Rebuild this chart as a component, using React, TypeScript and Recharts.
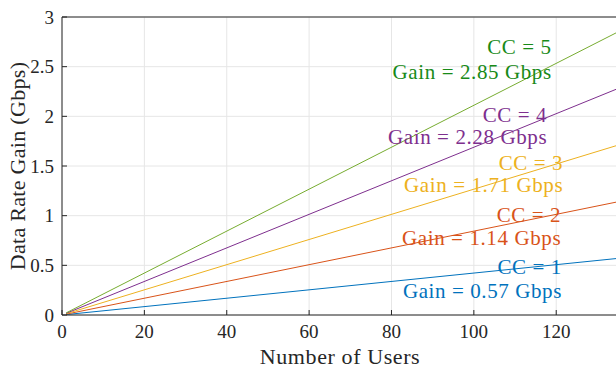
import React from 'react';
import { LineChart, Line, XAxis, YAxis, CartesianGrid, ReferenceLine, ReferenceDot } from 'recharts';

const users = [1, 135];
const cc1 = [0.0042, 0.57];
const cc2 = [0.0084, 1.14];
const cc3 = [0.0127, 1.71];
const cc4 = [0.0169, 2.28];
const cc5 = [0.0211, 2.85];

const ccNames = ['CC = 1', 'CC = 2', 'CC = 3', 'CC = 4', 'CC = 5'];
const gainNames = ['Gain = 0.57 Gbps', 'Gain = 1.14 Gbps', 'Gain = 1.71 Gbps', 'Gain = 2.28 Gbps', 'Gain = 2.85 Gbps'];
const annX = [121.4, 121.2, 121.7, 117.8, 118.9];
const annCcY = [0.483, 1.007, 1.53, 2.013, 2.698];
const annGainY = [0.242, 0.775, 1.309, 1.792, 2.446];

const xTicks = [0, 20, 40, 60, 80, 100, 120];
const yTicks = [0, 0.5, 1, 1.5, 2, 2.5, 3];

const lineColors = ['#0072BD', '#D95319', '#EDB120', '#7E2F8E', '#77AC30'];
const textColors = ['#0072BD', '#D95319', '#EDB120', '#7E2F8E', '#188A18'];

const FONT = '"Liberation Serif", serif';
const AX = '#262626';

const data = users.map((u, i) => ({
  u,
  c1: cc1[i],
  c2: cc2[i],
  c3: cc3[i],
  c4: cc4[i],
  c5: cc5[i],
}));

const keys = ['c1', 'c2', 'c3', 'c4', 'c5'];

const makeText = (txt: string, color: string) => (p: any) => (
  <text
    x={p.cx}
    y={p.cy}
    textAnchor="end"
    dominantBaseline="central"
    fill={color}
    style={{ fontFamily: FONT, fontSize: 21, letterSpacing: 0.6 }}
  >
    {txt}
  </text>
);

export default function App() {
  return (
    <div style={{ position: 'fixed', left: 0, top: 0, width: 616, height: 371, overflow: 'hidden', background: '#fff' }}>
      <LineChart width={618} height={371} data={data} margin={{ top: 17, right: 0, left: 0, bottom: 0 }}>
        <CartesianGrid stroke="#e6e6e6" strokeWidth={1} verticalValues={xTicks} horizontalValues={yTicks} />
        <XAxis
          dataKey="u"
          type="number"
          domain={[0, 135]}
          ticks={xTicks}
          height={56}
          tickSize={-5}
          tickMargin={15}
          stroke={AX}
          tick={{ fill: AX, fontFamily: FONT, fontSize: 19 }}
          label={{
            content: () => (
              <text x={340} y={356} textAnchor="middle" dominantBaseline="central" fill={AX} style={{ fontFamily: FONT, fontSize: 22, letterSpacing: 0.6 }}>
                Number of Users
              </text>
            ),
          }}
        />
        <XAxis xAxisId="t" orientation="top" dataKey="u" type="number" domain={[0, 135]} ticks={xTicks} height={0} tickSize={-5} tick={false} stroke={AX} />
        <YAxis
          type="number"
          domain={[0, 3]}
          ticks={yTicks}
          width={62}
          tickSize={-5}
          tickMargin={13}
          stroke={AX}
          tick={{ fill: AX, fontFamily: FONT, fontSize: 19 }}
          label={{
            content: () => (
              <text
                x={17}
                y={166}
                textAnchor="middle"
                dominantBaseline="central"
                transform="rotate(-90, 17, 166)"
                fill={AX}
                style={{ fontFamily: FONT, fontSize: 22, letterSpacing: 0.3 }}
              >
                Data Rate Gain (Gbps)
              </text>
            ),
          }}
        />
        <YAxis yAxisId="r" orientation="right" type="number" domain={[0, 3]} ticks={yTicks} width={0} tickSize={-5} tick={false} stroke={AX} />
        <ReferenceLine y={3} stroke={AX} strokeWidth={1} ifOverflow="visible" />
        {keys.map((k, i) => (
          <Line
            key={k}
            dataKey={k}
            stroke={lineColors[i]}
            strokeWidth={1}
            dot={false}
            isAnimationActive={false}
          />
        ))}
        {ccNames.map((n, i) => (
          <ReferenceDot key={'cc' + i} x={annX[i]} y={annCcY[i]} r={0} shape={makeText(n, textColors[i])} ifOverflow="visible" />
        ))}
        {gainNames.map((n, i) => (
          <ReferenceDot key={'g' + i} x={annX[i]} y={annGainY[i]} r={0} shape={makeText(n, textColors[i])} ifOverflow="visible" />
        ))}
      </LineChart>
    </div>
  );
}
